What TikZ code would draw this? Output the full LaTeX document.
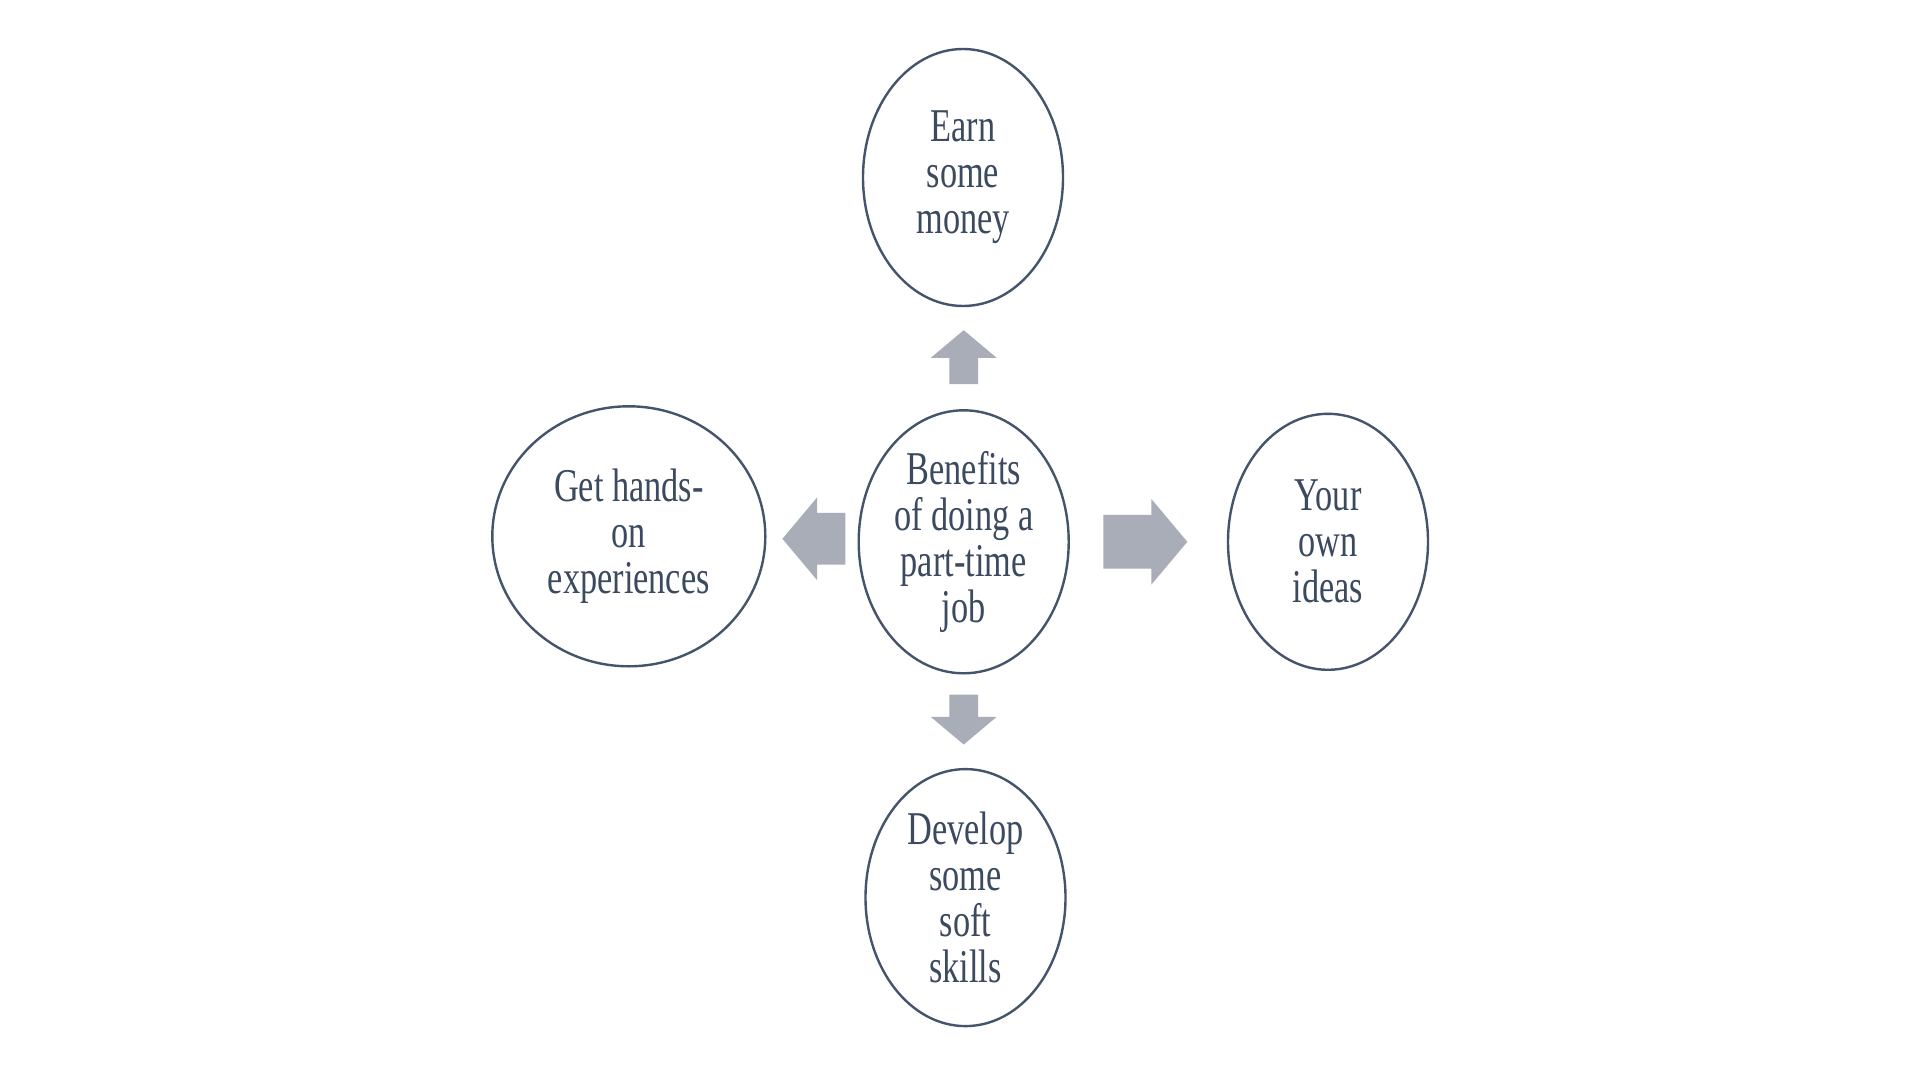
\documentclass[tikz,border=0pt]{standalone}
\usepackage{fontspec}
\usepackage{xcolor}
\usepackage{tikz}
\usetikzlibrary{shapes.geometric,shapes.arrows,calc}
\newfontfamily\bubblefont[FakeStretch=0.73]{Liberation Serif}
\definecolor{ringblue}{HTML}{44546A}
\definecolor{inkblue}{HTML}{3B4A5E}
\definecolor{arrowgrey}{HTML}{A8ADB7}

\begin{document}
\begin{tikzpicture}[x=0.5pt,y=0.5pt,yscale=-1,xscale=1,
  bubble/.style={ellipse,draw=ringblue,line width=1.2pt,fill=white,inner sep=0pt,
    align=center,text=inkblue,font=\bubblefont\fontsize{23.5}{23}\selectfont},
  fatarrow/.style={single arrow,fill=arrowgrey,draw=none,inner sep=0pt,anchor=tail,
    single arrow tip angle=100}]
\useasboundingbox (0,0) rectangle (1920,1080);
\fill[white] (0,0) rectangle (1920,1080);
\node [bubble,minimum width=105pt,minimum height=131.5pt] (hub) at (963.7,541.8) {Benefits\\of doing a\\part-time\\job};
\node [bubble,minimum width=100pt,minimum height=128.5pt] (money) at (963,177.5) {Earn\\some\\money};
\node [bubble,minimum width=136.5pt,minimum height=130pt] (hands) at (628.8,536.3) {Get hands-\\on\\experiences};
\node [bubble,minimum width=100pt,minimum height=128pt] (ideas) at (1328,541.8) {Your\\own\\ideas};
\node [bubble,minimum width=100pt,minimum height=128.5pt] (skills) at (965.5,897.6) {Develop\\some\\soft\\skills};
% block arrows going out of the hub
\node [fatarrow,rotate=90,minimum height=27pt,inner ysep=7pt,single arrow head extend=9.25pt] (toMoney) at ($(hub.north)+(0,-24.5)$) {};
\node [fatarrow,rotate=-90,minimum height=25pt,inner ysep=7pt,single arrow head extend=9.25pt] (toSkills) at ($(hub.south)+(0,19.6)$) {};
\node [fatarrow,rotate=180,minimum height=31.5pt,inner ysep=12.75pt,single arrow head extend=7.75pt] (toHands) at ($(hub.west)+(-11.7,-3)$) {};
\node [fatarrow,minimum height=42pt,inner ysep=13.25pt,single arrow head extend=8pt] (toIdeas) at ($(hub.east)+(33,0)$) {};
\end{tikzpicture}
\end{document}
